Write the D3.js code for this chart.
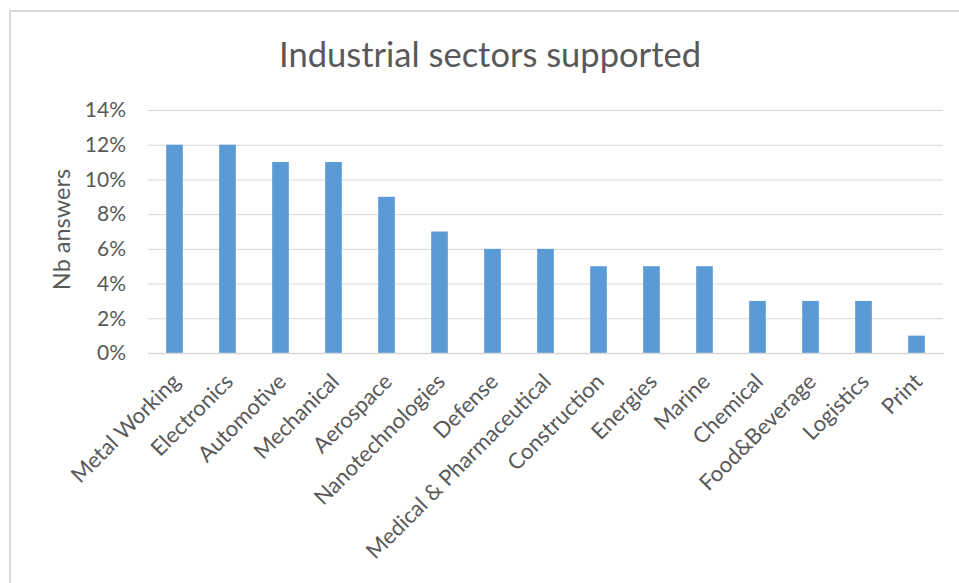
<!DOCTYPE html>
<html>
<head>
<meta charset="utf-8">
<script src="https://cdn.jsdelivr.net/npm/d3@7"></script>
<style>
  body { margin: 0; background: #fff; }
  svg text { font-family: Lato, "Open Sans", sans-serif; fill: #595959; }
</style>
</head>
<body>
<svg id="chart"></svg>
<script>
// data
const sectors = ["Metal Working", "Electronics", "Automotive", "Mechanical", "Aerospace",
  "Nanotechnologies", "Defense", "Medical & Pharmaceutical", "Construction", "Energies",
  "Marine", "Chemical", "Food&Beverage", "Logistics", "Print"];
const shares = [0.12, 0.12, 0.11, 0.11, 0.09, 0.07, 0.06, 0.06, 0.05, 0.05, 0.05, 0.03, 0.03, 0.03, 0.01];
const yTicks = [0, 0.02, 0.04, 0.06, 0.08, 0.10, 0.12, 0.14];
const chartTitle = "Industrial sectors supported";
const yTitle = "Nb answers";

const width = 959, height = 583;
const margin_left = 148, margin_right = 16, margin_top = 110, margin_bottom = 230;

const svg = d3.select("#chart")
    .attr("width", width)
    .attr("height", height);

// chart area border (runs off the right and bottom edges)
svg.append("rect")
    .attr("x", 10).attr("y", 11)
    .attr("width", 1000).attr("height", 1000)
    .attr("fill", "#fff")
    .attr("stroke", "#d9d9d9")
    .attr("stroke-width", 2);

const x = d3.scaleBand()
    .domain(sectors)
    .range([margin_left, width - margin_right])
    .paddingInner(0.686)
    .paddingOuter(0.343);

const y = d3.scaleLinear()
    .domain([0, 0.14])
    .range([height - margin_bottom, margin_top]);

// gridlines + y labels
const yAxis = d3.axisLeft(y)
    .tickValues(yTicks)
    .tickFormat(d3.format(".0%"))
    .tickSize(0)
    .tickPadding(22);

svg.append("g")
    .attr("transform", `translate(${margin_left},0)`)
    .call(yAxis)
    .call(g => g.select(".domain").remove())
    .call(g => g.selectAll(".tick line").clone()
        .attr("x2", width - margin_left - margin_right)
        .attr("stroke", "#d9d9d9")
        .attr("stroke-width", 1))
    .call(g => g.selectAll(".tick text")
        .attr("font-size", 21)
        .attr("fill", "#595959"));

// bars
svg.append("g")
    .selectAll("rect")
    .data(sectors.map((s, i) => [s, shares[i]]))
    .join("rect")
    .attr("x", d => x(d[0]))
    .attr("width", x.bandwidth())
    .attr("y", d => y(d[1]))
    .attr("height", d => y(0) - y(d[1]))
    .attr("fill", "#5b9bd5");

// x axis line and rotated labels
const xAxis = d3.axisBottom(x).tickSize(0).tickPadding(0);
svg.append("g")
    .attr("transform", `translate(0,${y(0)})`)
    .call(xAxis)
    .call(g => g.select(".domain")
        .attr("stroke", "#d9d9d9")
        .attr("stroke-width", 1.5))
    .call(g => g.selectAll(".tick text")
        .attr("font-size", 22)
        .attr("fill", "#595959")
        .attr("text-anchor", "end")
        .attr("y", 0)
        .attr("dy", 0)
        .attr("transform", "translate(7,30) rotate(-45)"));

// titles
svg.append("text")
    .attr("x", 490)
    .attr("y", 67)
    .attr("text-anchor", "middle")
    .attr("font-size", 34.5)
    .text(chartTitle);

svg.append("text")
    .attr("transform", `translate(70,${(y(0) + y(0.14)) / 2 - 2}) rotate(-90)`)
    .attr("text-anchor", "middle")
    .attr("font-size", 23.5)
    .text(yTitle);
</script>
</body>
</html>
